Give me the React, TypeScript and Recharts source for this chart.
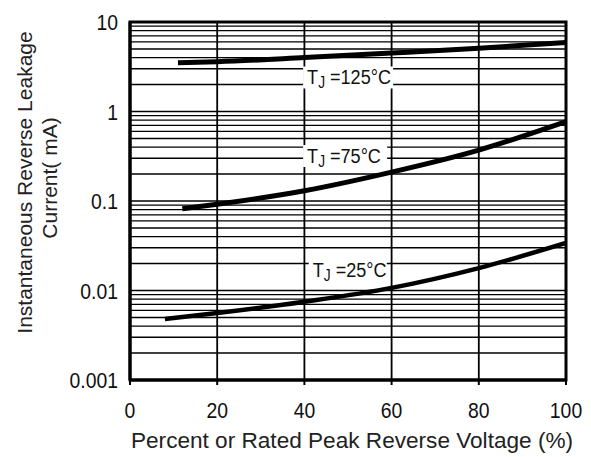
import { LineChart, Line, XAxis, YAxis, ReferenceLine, ReferenceArea, ReferenceDot } from 'recharts';

// percent of rated peak reverse voltage vs leakage current (mA)
const tj125 = [
  { v: 11, i: 3.5 },
  { v: 20, i: 3.6 },
  { v: 40, i: 4.0 },
  { v: 60, i: 4.5 },
  { v: 80, i: 5.1 },
  { v: 100, i: 5.9 },
];

const tj75 = [
  { v: 12, i: 0.082 },
  { v: 20, i: 0.092 },
  { v: 40, i: 0.13 },
  { v: 60, i: 0.21 },
  { v: 80, i: 0.37 },
  { v: 100, i: 0.77 },
];

const tj25 = [
  { v: 8, i: 0.0048 },
  { v: 20, i: 0.0056 },
  { v: 40, i: 0.0075 },
  { v: 60, i: 0.0107 },
  { v: 80, i: 0.0178 },
  { v: 100, i: 0.034 },
];

const xTicks = [0, 20, 40, 60, 80, 100];
const yTicks = [0.001, 0.01, 0.1, 1, 10];
const decades = [0.001, 0.01, 0.1, 1];
const minorSteps = [2, 3, 4, 5, 6, 7, 8, 9];

// label anchor = left edge of the white box, vertical centre
const curveLabels = [
  { v: 39.7, i: 2.4, temp: '125', w: 90 },
  { v: 39.7, i: 0.318, temp: '75', w: 84 },
  { v: 41.0, i: 0.0169, temp: '25', w: 78 },
];

const font = 'Arial, "Liberation Sans", sans-serif';

function TjLabel(props: any) {
  const { cx, cy, temp, w } = props;
  return (
    <g>
      <rect x={cx} y={cy - 11} width={w} height={22} fill="#fff" />
      <text transform={`translate(${cx + 4},${cy + 7}) scale(0.86,1)`} fontFamily={font} fontSize={21} fill="#111">
        <tspan>T</tspan>
        <tspan dy={4} fontSize={16}>J</tspan>
        <tspan dy={-4}>{' =' + temp + '°C'}</tspan>
      </text>
    </g>
  );
}

function XTick(props: any) {
  const { x, y, payload } = props;
  return (
    <text transform={`translate(${x},${y + 33}) scale(0.88,1)`} textAnchor="middle" fontFamily={font} fontSize={22} fill="#111">
      {payload.value}
    </text>
  );
}

function YTick(props: any) {
  const { x, y, payload } = props;
  return (
    <text transform={`translate(${x - 12},${y + 8}) scale(0.88,1)`} textAnchor="end" fontFamily={font} fontSize={22} fill="#111">
      {String(payload.value)}
    </text>
  );
}

export default function App() {
  const gridLevels: number[] = [];
  decades.forEach((d) => minorSteps.forEach((m) => gridLevels.push(d * m)));
  decades.slice(1).forEach((d) => gridLevels.push(d));

  return (
    <div style={{ position: 'absolute', left: 0, top: 0, background: '#fff' }}>
      <LineChart width={591} height={457} margin={{ top: 22, right: 25, bottom: 47, left: 70 }}>
        <XAxis
          type="number"
          dataKey="v"
          domain={[0, 100]}
          ticks={xTicks}
          height={30}
          axisLine={{ stroke: '#000', strokeWidth: 3 }}
          tickLine={{ stroke: '#000', strokeWidth: 2 }}
          tickSize={5}
          tickMargin={0}
          tick={<XTick />}
          allowDataOverflow
        />
        <YAxis
          type="number"
          dataKey="i"
          scale="log"
          domain={[0.001, 10]}
          ticks={yTicks}
          width={60}
          axisLine={{ stroke: '#000', strokeWidth: 3 }}
          tickLine={false}
          tickSize={0}
          tickMargin={0}
          tick={<YTick />}
          allowDataOverflow
        />
        {gridLevels.map((g) => (
          <ReferenceLine key={'h' + g} y={g} stroke="#000" strokeWidth={1.4} />
        ))}
        {xTicks.slice(1, 5).map((t) => (
          <ReferenceLine key={'v' + t} x={t} stroke="#000" strokeWidth={1.8} />
        ))}
        <ReferenceArea x1={0} x2={100} y1={0.001} y2={10} fill="none" stroke="#000" strokeWidth={3} />
        <Line data={tj125} dataKey="i" type="monotone" stroke="#000" strokeWidth={5} dot={false} isAnimationActive={false} />
        <Line data={tj75} dataKey="i" type="monotone" stroke="#000" strokeWidth={5} dot={false} isAnimationActive={false} />
        <Line data={tj25} dataKey="i" type="monotone" stroke="#000" strokeWidth={4.5} dot={false} isAnimationActive={false} />
        {curveLabels.map((l) => (
          <ReferenceDot
            key={l.temp}
            x={l.v}
            y={l.i}
            r={0}
            shape={(p: any) => <TjLabel {...p} temp={l.temp} w={l.w} />}
          />
        ))}
        <text transform="translate(32,182.5) rotate(-90)" textAnchor="middle" fontFamily={font} fontSize={21} fill="#222">
          Instantaneous Reverse Leakage
        </text>
        <text transform="translate(57,178) rotate(-90)" textAnchor="middle" fontFamily={font} fontSize={21} fill="#222">
          Current( mA)
        </text>
        <text x={352} y={448} textAnchor="middle" fontFamily={font} fontSize={22.6} fill="#222">
          Percent or Rated Peak Reverse Voltage (%)
        </text>
      </LineChart>
    </div>
  );
}
